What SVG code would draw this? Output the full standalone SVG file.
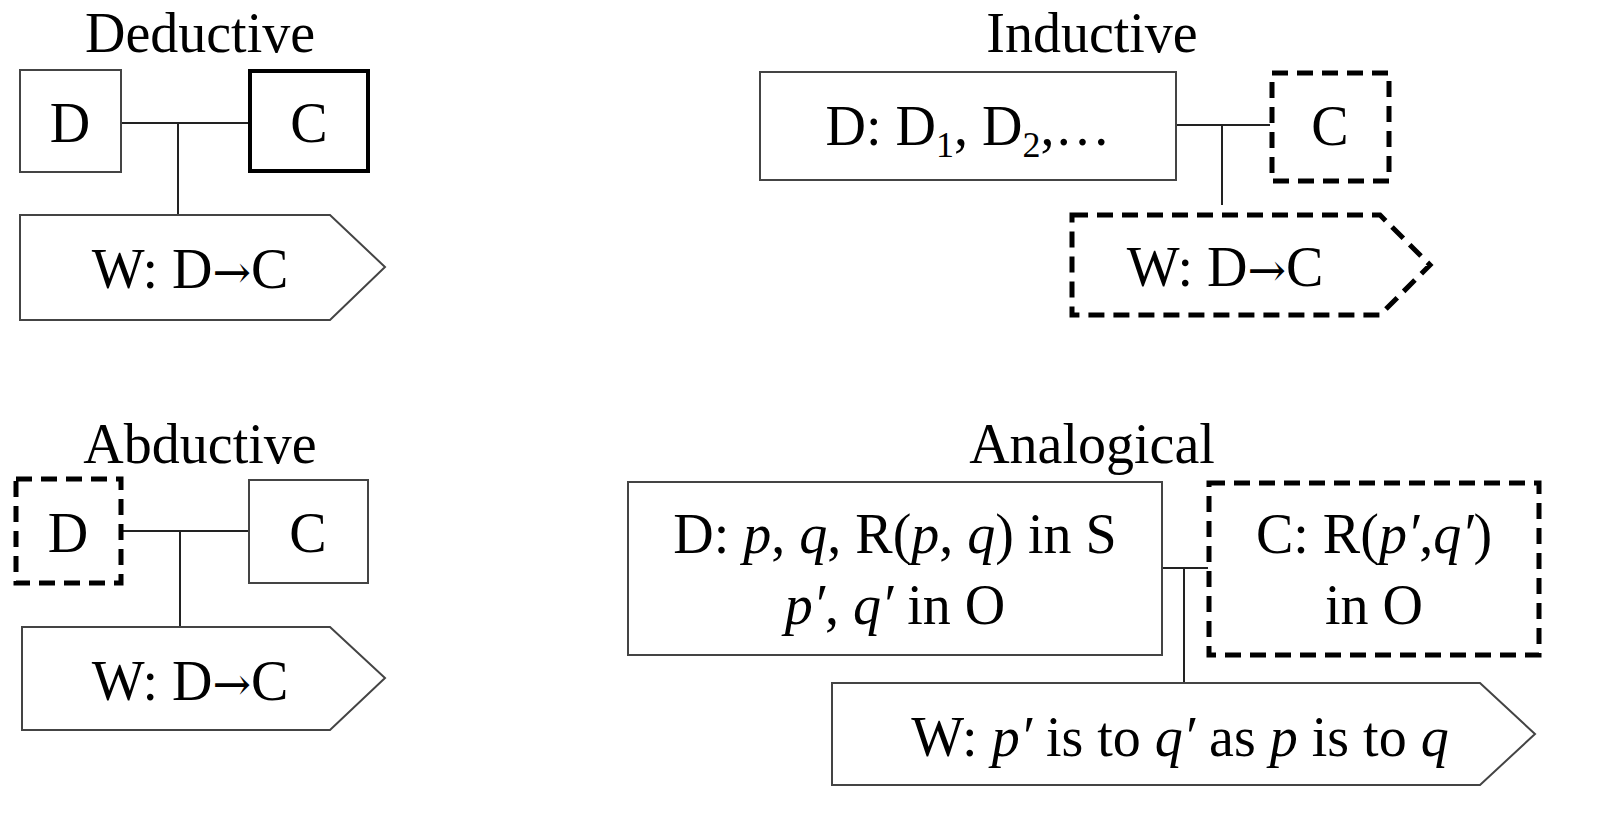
<svg xmlns="http://www.w3.org/2000/svg" width="1604" height="817" viewBox="0 0 1604 817">
<style>
text{font-family:"Liberation Serif","Times New Roman",serif;font-size:56px;fill:#000;text-anchor:middle}
.b{fill:#fff;stroke:#444;stroke-width:2}
.k{fill:#fff;stroke:#000;stroke-width:4}
.d{fill:#fff;stroke:#000;stroke-width:5;stroke-dasharray:16,9}
.l{stroke:#222;stroke-width:2;fill:none}
.i{font-style:italic}
.a{font-family:"DejaVu Serif",serif;font-size:46px}
</style>
<rect width="1604" height="817" fill="#fff"/>
<text x="200" y="52">Deductive</text>
<text x="1092" y="52">Inductive</text>
<text x="200" y="463">Abductive</text>
<text x="1092" y="463">Analogical</text>
<g id="connectors">
<path class="l" d="M121 123H249M178 123V215"/>
<path class="l" d="M1176 125H1270M1222 125V205"/>
<path class="l" d="M122 531H249M180 531V627"/>
<path class="l" d="M1162 568H1208M1184 568V683"/>
</g>
<g id="ded-d"><rect class="b" x="20" y="70" width="101" height="102"/><text x="70" y="142">D</text></g>
<g id="ded-c"><rect class="k" x="250" y="71" width="118" height="100"/><text x="309" y="142">C</text></g>
<g id="ded-w"><polygon class="b" points="20,215 330,215 385,267 330,320 20,320"/><text x="190" y="288">W: D<tspan class="a">→</tspan>C</text></g>
<g id="ind-d"><rect class="b" x="760" y="72" width="416" height="108"/><text x="968" y="145">D: D<tspan font-size="36" dy="12">1</tspan><tspan dy="-12">, D</tspan><tspan font-size="36" dy="12">2</tspan><tspan dy="-12">,…</tspan></text></g>
<g id="ind-c"><rect class="d" x="1272" y="73" width="117" height="108"/><text x="1330" y="145">C</text></g>
<g id="ind-w"><polygon class="d" points="1072,215 1380,215 1430,265 1380,315 1072,315"/><text x="1225" y="286">W: D<tspan class="a">→</tspan>C</text></g>
<g id="abd-d"><rect class="d" x="16" y="479" width="105" height="104"/><text x="68" y="552">D</text></g>
<g id="abd-c"><rect class="b" x="249" y="480" width="119" height="103"/><text x="308" y="552">C</text></g>
<g id="abd-w"><polygon class="b" points="22,627 330,627 385,678 330,730 22,730"/><text x="190" y="700">W: D<tspan class="a">→</tspan>C</text></g>
<g id="ana-d"><rect class="b" x="628" y="482" width="534" height="173"/><text x="895" y="553">D: <tspan class="i">p</tspan>, <tspan class="i">q</tspan>, R(<tspan class="i">p</tspan>, <tspan class="i">q</tspan>) in S</text><text x="895" y="624"><tspan class="i">p′</tspan>, <tspan class="i">q′</tspan> in O</text></g>
<g id="ana-c"><rect class="d" x="1209" y="483" width="330" height="172"/><text x="1374" y="553">C: R(<tspan class="i">p′</tspan>,<tspan class="i">q′</tspan>)</text><text x="1374" y="624">in O</text></g>
<g id="ana-w"><polygon class="b" points="832,683 1480,683 1535,734 1480,785 832,785"/><text x="1180" y="756">W: <tspan class="i">p′</tspan> is to <tspan class="i">q′</tspan> as <tspan class="i">p</tspan> is to <tspan class="i">q</tspan></text></g>
</svg>
